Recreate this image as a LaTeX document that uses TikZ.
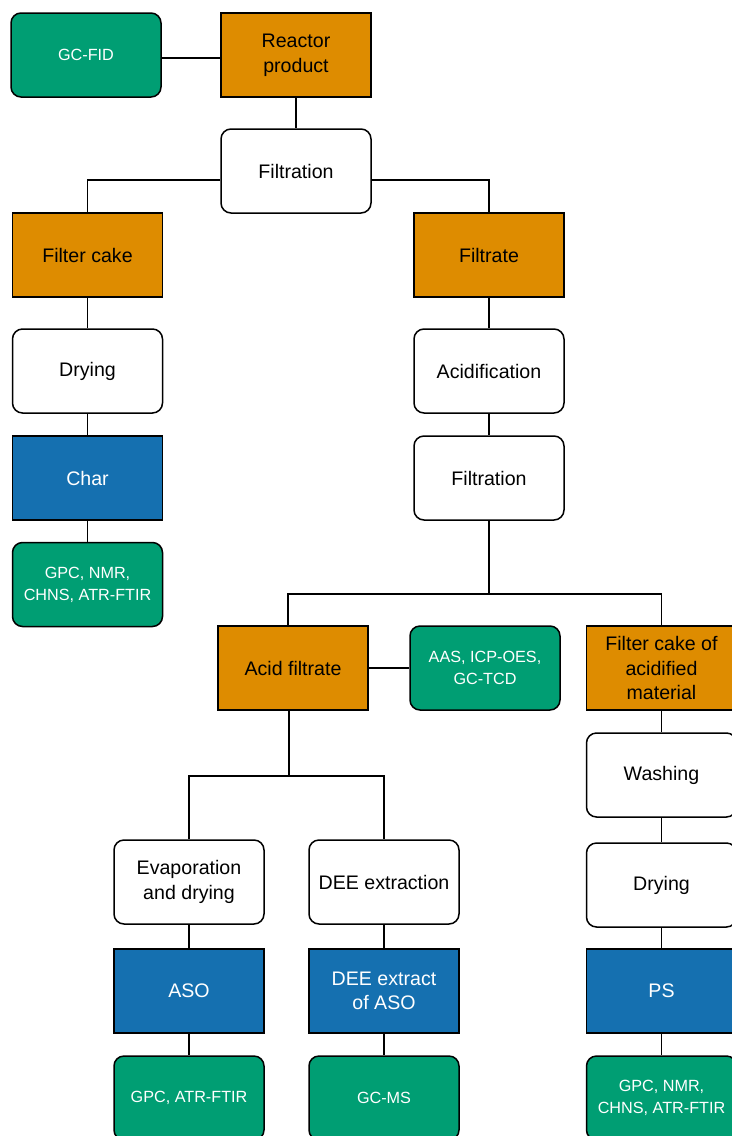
\documentclass[tikz,border=0pt]{standalone}
\usepackage{fontspec}
\setmainfont{Liberation Sans}
\definecolor{prodorange}{HTML}{DE8C00}
\definecolor{anagreen}{HTML}{009E73}
\definecolor{fracblue}{HTML}{1570B0}
\begin{document}
\begin{tikzpicture}[
    x=0.5pt, y=-0.5pt,
    every node/.style={font=\fontsize{9.8}{12.3}\selectfont},
    product/.style={
        draw,
        line width=0.75pt,
        fill=prodorange,
        align=center,
        minimum width=75pt,
        minimum height=42pt
    },
    process/.style={
        draw,
        line width=0.75pt,
        rounded corners=5pt,
        fill=white,
        align=center,
        minimum width=75pt,
        minimum height=42pt
    },
    fraction/.style={
        draw,
        line width=0.75pt,
        fill=fracblue,
        text=white,
        align=center,
        minimum width=75pt,
        minimum height=42pt
    },
    analysis/.style={
        draw,
        line width=0.75pt,
        rounded corners=5pt,
        fill=anagreen,
        text=white,
        align=center,
        font=\fontsize{8.1}{11}\selectfont,
        minimum width=75pt,
        minimum height=42pt
    },
    link/.style={line width=0.75pt}
]

    \useasboundingbox (0,0) rectangle (732,1136);

    % reactor and first filtration
    \node[analysis] (gcfid) at (86,55) {GC-FID};
    \node[product] (reactor) at (296,55) {Reactor\\product};
    \node[process] (filt1) at (296,171) {Filtration};

    % filter cake branch
    \node[product] (cake) at (87.5,255) {Filter cake};
    \node[process] (dry1) at (87.5,371) {Drying};
    \node[fraction] (char) at (87.5,478) {Char};
    \node[analysis] (anachar) at (87.5,584.5) {GPC, NMR,\\CHNS, ATR-FTIR};

    % filtrate branch
    \node[product] (filtrate) at (489,255) {Filtrate};
    \node[process] (acidif) at (489,371) {Acidification};
    \node[process] (filt2) at (489,478) {Filtration};

    % acid filtrate and filter cake of acidified material
    \node[product] (acidfil) at (293,668) {Acid filtrate};
    \node[analysis] (aas) at (485,668) {AAS, ICP-OES,\\GC-TCD};
    \node[product] (cakeacid) at (661.5,668) {Filter cake of\\acidified\\material};

    % acid filtrate work-up
    \node[process] (evap) at (189,882) {Evaporation\\and drying};
    \node[process] (dee) at (384,882) {DEE extraction};
    \node[fraction] (aso) at (189,991) {ASO};
    \node[fraction] (deeext) at (384,991) {DEE extract\\of ASO};
    \node[analysis] (anaaso) at (189,1098) {GPC, ATR-FTIR};
    \node[analysis] (gcms) at (384,1098) {GC-MS};

    % solid work-up
    \node[process] (washing) at (661.5,775) {Washing};
    \node[process] (dry2) at (661.5,885) {Drying};
    \node[fraction] (ps) at (661.5,991) {PS};
    \node[analysis] (anaps) at (661.5,1098) {GPC, NMR,\\CHNS, ATR-FTIR};

    % split points
    \coordinate (split1) at (489,594);
    \coordinate (split2) at (289,776);

    % Connectors
    \draw[link] ([yshift=-1.5pt]gcfid.east) -- ([yshift=-1.5pt]reactor.west);
    \draw[link] (reactor.south) -- (filt1.north);
    \draw[link] ([yshift=-4.5pt]filt1.west) -| (cake.north);
    \draw[link] ([yshift=-4.5pt]filt1.east) -| (filtrate.north);

    \draw[link] (cake) -- (dry1) -- (char) -- (anachar);
    \draw[link] (filtrate) -- (acidif) -- (filt2);

    \draw[link] (filt2.south) -- (split1);
    \draw[link] (split1) -| ([xshift=-2.5pt]acidfil.north);
    \draw[link] (split1) -| (cakeacid.north);
    \draw[link] (acidfil.east) -- (aas.west);

    \draw[link] ([xshift=-2pt]acidfil.south) -- (split2);
    \draw[link] (split2) -| (evap.north);
    \draw[link] (split2) -| (dee.north);
    \draw[link] (evap) -- (aso) -- (anaaso);
    \draw[link] (dee) -- (deeext) -- (gcms);

    \draw[link] (cakeacid) -- (washing) -- (dry2) -- (ps) -- (anaps);

\end{tikzpicture}
\end{document}
